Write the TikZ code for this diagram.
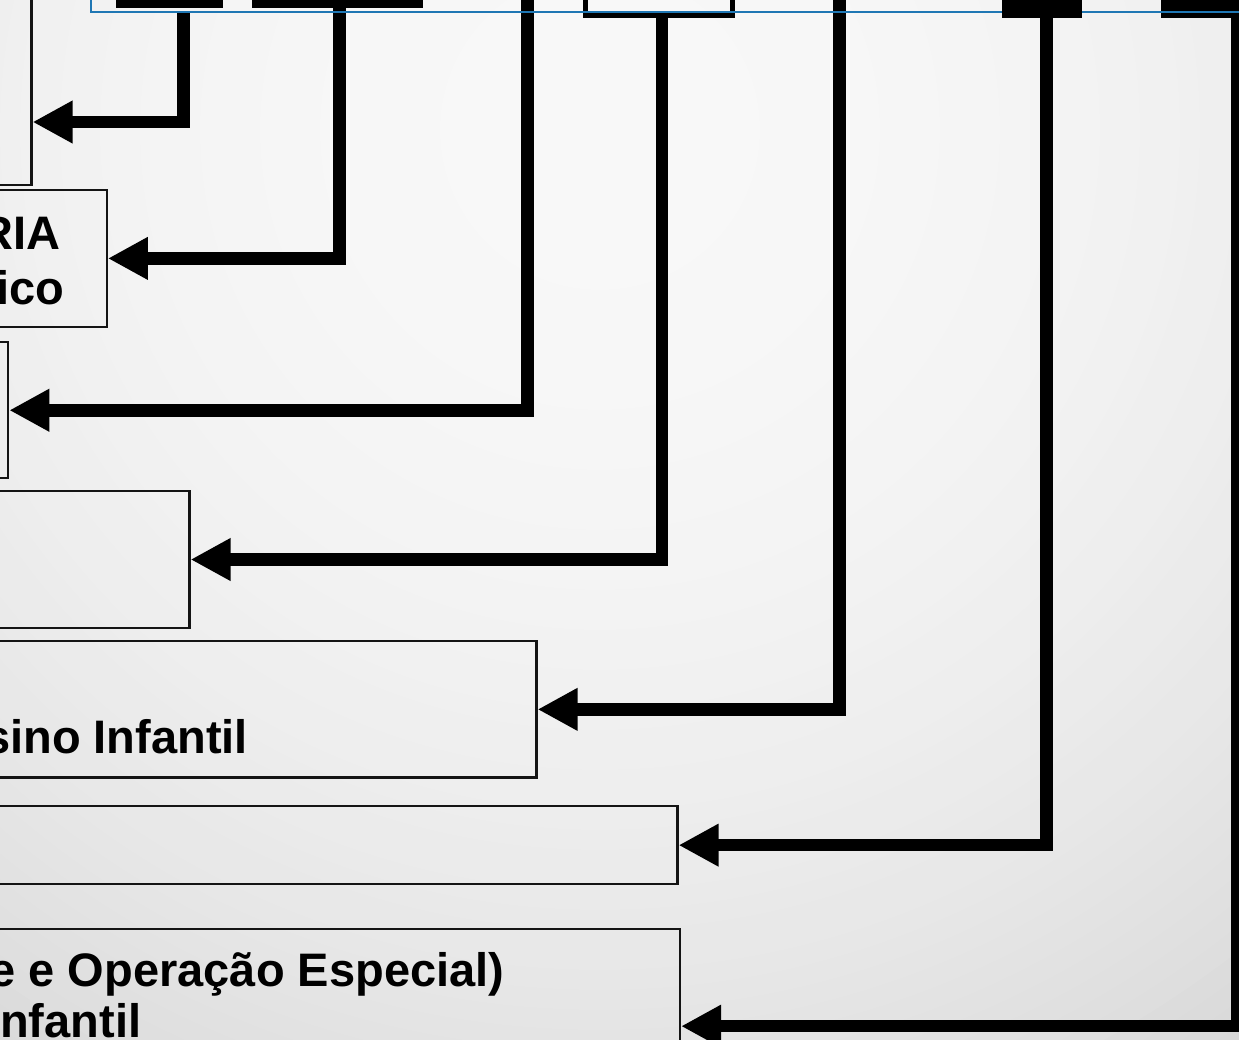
\documentclass[tikz,border=0pt]{standalone}
\usepackage{fontspec}
\setmainfont{Liberation Sans}
\usetikzlibrary{arrows.meta,fit}

\definecolor{frameblue}{RGB}{31,119,180}

\begin{document}
\begin{tikzpicture}[x=1pt,y=-1pt,
  panel/.style={draw=black!92, line width=2.2pt, inner sep=0pt},
  topbar/.style={fill=black, draw=none, inner sep=0pt, outer sep=0pt},
  boxtext/.style={font=\fontsize{47pt}{55pt}\selectfont\bfseries, inner sep=0pt,
    anchor=base east, text=black},
  conn/.style={draw=black, line width=12.5pt, line join=miter,
    -{Triangle[length=40pt,width=40pt]}},
]
\useasboundingbox (0,0) rectangle (1239,1039);
\clip (0,0) rectangle (1239,1039);

% slide background: light centre near the top, greying towards the corners
\foreach \r in {1500,1480,...,20} {
  \pgfmathsetmacro\greypct{(7 + 30*((\r/1100)^2.2))/2.55}
  \fill[black!\greypct!white] (600,130) circle (\r pt);
}

% boxes on the left
\node[panel, fit={(-300,-300) (31.5,185)}] (A) {};
\node[panel, fit={(-300,190) (106.8,326.8)}] (B) {};
\node[panel, fit={(-300,342.3) (8.2,478.2)}] (C) {};
\node[panel, fit={(-300,491) (189.5,628)}] (D) {};
\node[panel, fit={(-300,641.3) (536.5,777.4)}] (E) {};
\node[panel, fit={(-300,806) (677.5,884.3)}] (F) {};
\node[panel, fit={(-300,929.3) (680,1123)}] (G) {};

% box texts
\node[boxtext] (B1) at (61,249) {RIA};
\node[boxtext] (B2) at (64.4,304) {ico};
\node[boxtext] (E1) at (248,753) {sino Infantil};
\node[boxtext] (G1) at (504.5,986) {e e Operação Especial)};
\node[boxtext] (G2) at (141.4,1037) {nfantil};

% connector start points
\coordinate (s1) at (183.5,12);
\coordinate (s2) at (339.5,8);
\coordinate (s3) at (527.5,-5);
\coordinate (s4) at (662,15);
\coordinate (s5) at (839.5,-5);
\coordinate (s6) at (1046.5,18);
\coordinate (s7) at (1237,18);
\coordinate (y1) at (0,122);

\draw[conn] (s1) |- (A.east |- y1);
\draw[conn] (s2) |- (B.east);
\draw[conn] (s3) |- (C.east);
\draw[conn] (s4) |- (D.east);
\draw[conn] (s5) |- (E.east);
\draw[conn] (s6) |- (F.east);
\draw[conn] (s7) |- (G.east);

% boxes along the top edge
\node[topbar, fit={(116,-50) (223,8)}] (t1) {};
\node[topbar, fit={(252,-50) (423,8)}] (t2) {};
\node[draw=black, line width=5pt, inner sep=0pt, fit={(585.5,-50) (732,15.5)}] (t4) {};
\node[topbar, fit={(1161,-50) (1300,18)}] (t7) {};

% blue selection frame
\node[draw=frameblue, line width=2.8pt, inner sep=0pt, fit={(91,-100) (1300,12)}] (frame) {};

\node[topbar, fit={(1002,-50) (1082,18)}] (t6) {};
\end{tikzpicture}
\end{document}
